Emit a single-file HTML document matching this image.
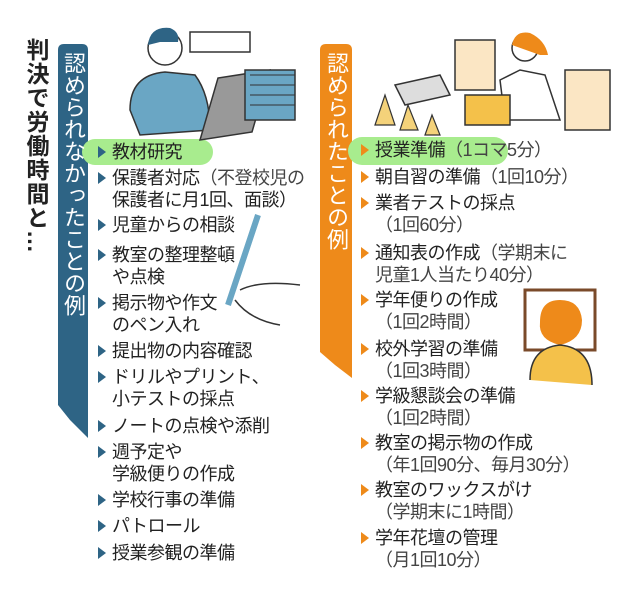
<!DOCTYPE html>
<html><head><meta charset="utf-8"><style>
body{margin:0;width:640px;height:601px;background:#fff;position:relative;overflow:hidden;font-family:"Liberation Sans","Noto Sans CJK JP",sans-serif;color:#222}
.t{position:absolute;font-size:18px;line-height:22px;white-space:nowrap;letter-spacing:-0.5px}
.a{position:absolute;width:0;height:0;border-top:6px solid transparent;border-bottom:6px solid transparent;border-left:8px solid #2e6485}
.o{border-left-color:#ee8a1a}
.v{position:absolute;writing-mode:vertical-rl}
.p{color:#444}
</style></head><body>
<svg width="640" height="601" style="position:absolute;left:0;top:0">
<path d="M58 50 Q58 44 64 44 L82 44 Q88 44 88 50 L88 438 L70 420 L58 405 Z" fill="#2e6485"/>
<path d="M320 50 Q320 44 326 44 L346 44 Q352 44 352 50 L352 378 L335 365 L320 352 Z" fill="#ee8a1a"/>
<rect x="82" y="139" width="131" height="26" rx="13" fill="#a8ec8e"/>
<rect x="348" y="137" width="160" height="28" rx="14" fill="#a8ec8e"/>
<rect x="190" y="32" width="60" height="20" fill="none" stroke="#333" stroke-width="1.5"/>
<path d="M130 110 Q130 75 165 72 L195 75 Q210 95 210 130 L140 135 Z" fill="#6aa6c4" stroke="#333" stroke-width="1.5"/>
<circle cx="165" cy="48" r="17" fill="#fff" stroke="#333" stroke-width="1.5"/>
<path d="M148 45 Q150 26 170 28 Q180 32 178 42 L160 42 Z" fill="#2e6485"/>
<path d="M200 140 L218 78 L270 70 L252 132 Z" fill="#999" stroke="#333" stroke-width="1.5"/>
<rect x="245" y="70" width="50" height="50" fill="#6aa6c4" stroke="#333" stroke-width="1.5"/>
<path d="M250 75 H295 M250 85 H295 M250 95 H295 M250 105 H295" stroke="#333"/>
<path d="M258 215 L228 305" stroke="#6aa6c4" stroke-width="6"/>
<path d="M240 290 Q260 280 300 285 M235 300 Q250 320 280 325" stroke="#333" stroke-width="1.5" fill="none"/>
<rect x="455" y="40" width="40" height="50" fill="#fbe6c4" stroke="#333" stroke-width="1.5"/>
<rect x="565" y="70" width="45" height="60" fill="#fbe6c4" stroke="#333" stroke-width="1.5"/>
<circle cx="525" cy="48" r="13" fill="#fff" stroke="#333" stroke-width="1.5"/>
<path d="M512 45 Q515 30 530 33 Q545 40 548 55 L540 55 Z" fill="#ee8a1a"/>
<path d="M500 80 L520 70 L545 75 L560 120 L505 120 Z" fill="#fff" stroke="#333" stroke-width="1.5"/>
<path d="M395 85 L440 75 L450 95 L405 105 Z" fill="#ddd" stroke="#333" stroke-width="1.5"/>
<rect x="465" y="95" width="45" height="30" fill="#f4c14a" stroke="#333" stroke-width="1.5"/>
<path d="M375 125 L385 95 L395 125 Z M400 130 L408 105 L418 130 Z M425 135 L432 115 L440 135 Z" fill="#f4d27a" stroke="#333" stroke-width="1.2"/>
<rect x="525" y="290" width="70" height="60" fill="#fff" stroke="#7a4a2a" stroke-width="3"/>
<path d="M560 300 Q540 300 540 322 Q538 340 560 345 Q582 340 582 320 Q580 300 560 300 Z" fill="#ee8a1a"/>
<path d="M530 380 Q530 348 560 345 Q592 348 592 385" fill="#f4c14a" stroke="#333" stroke-width="1.5"/>
</svg>
<div class="v" style="left:24px;top:38px;font-size:23px;line-height:24px;font-weight:bold;letter-spacing:1px">判決で労働時間と…</div>
<div class="v" style="left:61px;top:52px;font-size:22px;color:#fff;line-height:24px">認められなかったことの例</div>
<div class="v" style="left:324px;top:52px;font-size:22px;color:#fff;line-height:24px">認められたことの例</div>

<div class="a" style="left:98px;top:146px"></div><div class="t" style="left:112px;top:141px">教材研究</div>
<div class="a" style="left:98px;top:172px"></div><div class="t" style="left:112px;top:167px">保護者対応<span class="p">（不登校児の</span><br>保護者に月1回、面談）</div>
<div class="a" style="left:98px;top:219px"></div><div class="t" style="left:112px;top:214px">児童からの相談</div>
<div class="a" style="left:98px;top:249px"></div><div class="t" style="left:112px;top:244px">教室の整理整頓<br>や点検</div>
<div class="a" style="left:98px;top:297px"></div><div class="t" style="left:112px;top:292px">掲示物や作文<br>のペン入れ</div>
<div class="a" style="left:98px;top:345px"></div><div class="t" style="left:112px;top:340px">提出物の内容確認</div>
<div class="a" style="left:98px;top:371px"></div><div class="t" style="left:112px;top:366px">ドリルやプリント、<br>小テストの採点</div>
<div class="a" style="left:98px;top:420px"></div><div class="t" style="left:112px;top:415px">ノートの点検や添削</div>
<div class="a" style="left:98px;top:446px"></div><div class="t" style="left:112px;top:441px">週予定や<br>学級便りの作成</div>
<div class="a" style="left:98px;top:494px"></div><div class="t" style="left:112px;top:489px">学校行事の準備</div>
<div class="a" style="left:98px;top:520px"></div><div class="t" style="left:112px;top:515px">パトロール</div>
<div class="a" style="left:98px;top:547px"></div><div class="t" style="left:112px;top:542px">授業参観の準備</div>

<div class="a o" style="left:361px;top:144px"></div><div class="t" style="left:375px;top:139px">授業準備<span class="p">（1コマ5分）</span></div>
<div class="a o" style="left:361px;top:171px"></div><div class="t" style="left:375px;top:166px">朝自習の準備<span class="p">（1回10分）</span></div>
<div class="a o" style="left:361px;top:197px"></div><div class="t p" style="left:375px;top:192px"><span style="color:#222">業者テストの採点</span><br>（1回60分）</div>
<div class="a o" style="left:361px;top:247px"></div><div class="t p" style="left:375px;top:242px"><span style="color:#222">通知表の作成</span>（学期末に<br>児童1人当たり40分）</div>
<div class="a o" style="left:361px;top:294px"></div><div class="t p" style="left:375px;top:289px"><span style="color:#222">学年便りの作成</span><br>（1回2時間）</div>
<div class="a o" style="left:361px;top:343px"></div><div class="t p" style="left:375px;top:338px"><span style="color:#222">校外学習の準備</span><br>（1回3時間）</div>
<div class="a o" style="left:361px;top:390px"></div><div class="t p" style="left:375px;top:385px"><span style="color:#222">学級懇談会の準備</span><br>（1回2時間）</div>
<div class="a o" style="left:361px;top:437px"></div><div class="t p" style="left:375px;top:432px"><span style="color:#222">教室の掲示物の作成</span><br>（年1回90分、毎月30分）</div>
<div class="a o" style="left:361px;top:484px"></div><div class="t p" style="left:375px;top:479px"><span style="color:#222">教室のワックスがけ</span><br>（学期末に1時間）</div>
<div class="a o" style="left:361px;top:532px"></div><div class="t p" style="left:375px;top:527px"><span style="color:#222">学年花壇の管理</span><br>（月1回10分）</div>
</body></html>
